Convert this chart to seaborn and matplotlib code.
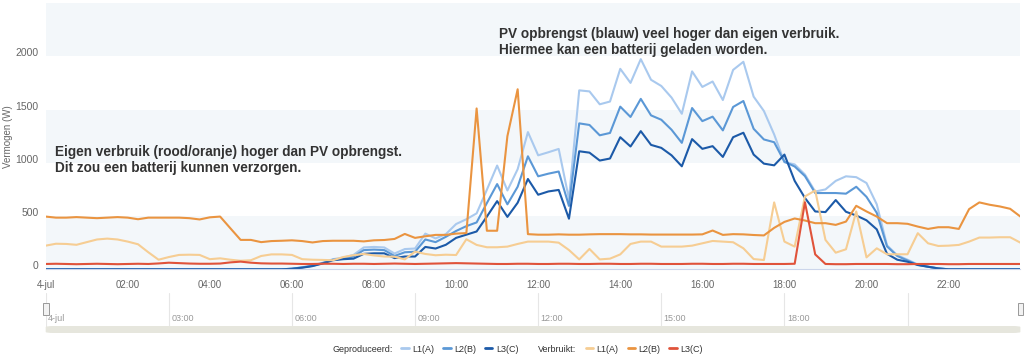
import numpy as np
import pandas as pd
import matplotlib
matplotlib.use("Agg")
import matplotlib.pyplot as plt
import matplotlib.transforms as mtransforms
from matplotlib.lines import Line2D
from matplotlib.patches import FancyBboxPatch, Rectangle
import seaborn as sns

# kwartierwaarden 00:00 .. 23:45 (W)
uren = np.arange(96) * 0.25

prod_l1 = [0] * 24 + [
    5, 20, 35, 62, 95, 110, 135, 205,
    210, 205, 148, 190, 195, 335, 290, 330,
    425, 470, 525, 747, 974, 740, 940, 1288,
    1070, 1099, 1130, 660, 1680, 1670, 1549, 1575,
    1882, 1750, 1973, 1779, 1721, 1612, 1460, 1858,
    1712, 1763, 1589, 1872, 1948, 1621, 1486, 1266,
    1005, 985, 890, 730, 750, 830, 873, 865,
    810, 610, 225, 132, 90, 45, 25, 8,
] + [0] * 8
prod_l2 = [0] * 24 + [
    5, 18, 32, 58, 90, 100, 120, 180,
    185, 180, 125, 160, 165, 280, 255, 305,
    360, 405, 440, 622, 800, 610, 775, 1061,
    873, 898, 918, 595, 1370, 1355, 1258, 1280,
    1527, 1430, 1600, 1445, 1404, 1310, 1187, 1514,
    1391, 1433, 1304, 1524, 1580, 1319, 1219, 1193,
    1010, 965, 875, 716, 716, 716, 710, 775,
    680, 530, 215, 125, 82, 42, 24, 8,
] + [0] * 8
prod_l3 = [0] * 24 + [
    5, 15, 30, 55, 85, 95, 100, 145,
    150, 150, 105, 120, 120, 210, 195, 230,
    295, 325, 355, 495, 640, 492, 625, 848,
    700, 731, 745, 475, 1108, 1095, 1021, 1040,
    1240, 1153, 1297, 1168, 1140, 1070, 967, 1222,
    1131, 1156, 1055, 1240, 1282, 1077, 992, 976,
    1077, 830, 670, 543, 537, 650, 540, 505,
    460, 375, 145, 90, 71, 40, 24, 8,
] + [0] * 8

verbr_l1 = [
    222, 240, 238, 230, 255, 280, 288, 280,
    260, 235, 160, 90, 115, 135, 137, 135,
    95, 103, 90, 80, 85, 125, 140, 140,
    135, 95, 90, 88, 85, 115, 132, 144,
    130, 120, 118, 93, 166, 144, 132, 137,
    134, 282, 229, 207, 207, 213, 238, 260,
    260, 260, 250, 181, 93, 191, 93, 100,
    140, 238, 260, 260, 213, 213, 213, 222,
    244, 266, 260, 254, 197, 96, 87, 628,
    260, 213, 684, 740, 276, 156, 188, 543,
    112, 197, 141, 141, 141, 339, 244, 219,
    222, 229, 260, 298, 298, 301, 301, 250,
]
verbr_l2 = [
    495, 485, 485, 490, 485, 480, 485, 490,
    485, 470, 485, 485, 485, 485, 480, 468,
    488, 495, 385, 276, 276, 255, 265, 268,
    272, 265, 252, 265, 268, 268, 268, 262,
    272, 275, 285, 332, 295, 310, 323, 323,
    335, 340, 1510, 362, 362, 1250, 1690, 330,
    325, 325, 328, 325, 325, 328, 330, 330,
    330, 328, 328, 326, 326, 326, 326, 326,
    328, 364, 323, 330, 328, 322, 318, 389,
    445, 477, 458, 433, 433, 417, 448, 596,
    543, 495, 433, 433, 427, 401, 379, 395,
    395, 379, 565, 628, 606, 590, 568, 495,
]
verbr_l3 = [
    50, 52, 50, 48, 50, 52, 50, 48,
    50, 52, 50, 55, 62, 58, 54, 52,
    52, 54, 65, 72, 62, 56, 54, 54,
    52, 50, 50, 52, 52, 50, 52, 52,
    50, 52, 54, 52, 50, 52, 54, 56,
    58, 56, 54, 52, 50, 50, 52, 52,
    50, 50, 52, 52, 50, 50, 52, 52,
    50, 50, 52, 52, 50, 50, 50, 52,
    52, 50, 50, 52, 52, 50, 50, 50,
    50, 52, 630, 140, 50, 48, 48, 50,
    50, 50, 50, 48, 48, 50, 50, 50,
    48, 48, 50, 50, 50, 50, 50, 50,
]

series = {
    "Geproduceerd L1(A)": prod_l1,
    "Geproduceerd L2(B)": prod_l2,
    "Geproduceerd L3(C)": prod_l3,
    "Verbruikt L1(A)": verbr_l1,
    "Verbruikt L2(B)": verbr_l2,
    "Verbruikt L3(C)": verbr_l3,
}
kleuren = ["#a9c9ee", "#5b98d6", "#1c5aa8", "#f6cd93", "#ea9440", "#e0533a"]

x_ticks = list(range(0, 24, 2))
x_labels = ["4-jul"] + [f"{h:02d}:00" for h in range(2, 24, 2)]
nav_ticks = list(range(0, 24, 3))
nav_labels = ["4-jul", "03:00", "06:00", "09:00", "12:00", "15:00", "18:00", ""]
y_ticks = [0, 500, 1000, 1500, 2000]

df = pd.concat(
    [pd.DataFrame({"uur": uren, "W": v, "serie": k}) for k, v in series.items()],
    ignore_index=True,
)

sns.set_style("white")
plt.rcParams["font.family"] = ["Liberation Sans", "DejaVu Sans"]

W, H = 1024, 357
fig = plt.figure(figsize=(10.24, 3.57), dpi=100)
x0, x1 = 45.7, 1020.4
ax = fig.add_axes([x0 / W, 1 - 269.3 / H, (x1 - x0) / W, (269.3 - 3) / H])

band = "#f3f7fa"
for lo in (0, 1000, 2000):
    ax.axhspan(lo, lo + 500, color=band, lw=0, zorder=0)

sns.lineplot(data=df, x="uur", y="W", hue="serie", hue_order=list(series),
             palette=kleuren, linewidth=1.5, legend=False, ax=ax,
             estimator=None, sort=False)

ax.set_xlim(0, 23.75)
ax.set_ylim(0, 2500)
ax.set_xticks(x_ticks)
ax.set_xticklabels(x_labels)
ax.set_yticks(y_ticks)
ax.set_xlabel("")
ax.set_ylabel("")
ax.tick_params(axis="x", length=4, color="#ccd6eb", labelsize=7, labelcolor="#666666", pad=4)
ax.tick_params(axis="y", length=0, labelsize=7.5, labelcolor="#666666", pad=5)
omhoog = mtransforms.ScaledTranslation(0, 4 / 100, fig.dpi_scale_trans)
for lab in ax.get_yticklabels():
    lab.set_transform(lab.get_transform() + omhoog)
for s in ("top", "right", "left"):
    ax.spines[s].set_visible(False)
ax.spines["bottom"].set_color("#ccd6eb")
ax.grid(False)

fig.text(8 / W, 1 - 137 / H, "Vermogen (W)", rotation=90, ha="center", va="center",
         fontsize=7, color="#666666")

fig.text(55 / W, 1 - 145 / H,
         "Eigen verbruik (rood/oranje) hoger dan PV opbrengst.\nDit zou een batterij kunnen verzorgen.",
         fontsize=9.8, fontweight="bold", color="#333333", ha="left", va="top", linespacing=1.2)
fig.text(499 / W, 1 - 27 / H,
         "PV opbrengst (blauw) veel hoger dan eigen verbruik.\nHiermee kan een batterij geladen worden.",
         fontsize=9.8, fontweight="bold", color="#333333", ha="left", va="top", linespacing=1.2)

# navigator
nav = fig.add_axes([x0 / W, 1 - 327 / H, (x1 - x0) / W, 34 / H])
nav.set_xlim(0, 23.75)
nav.set_ylim(0, 1)
nav.set_xticks([])
nav.set_yticks([])
for s in nav.spines.values():
    s.set_visible(False)
for t, lab in zip(nav_ticks, nav_labels):
    nav.axvline(t, color="#e6e6e6", lw=0.8, zorder=0)
    nav.text(t + 0.06, 0.25, lab, fontsize=6.5, color="#999999", ha="left", va="center")
for xh in (0, 23.75):
    nav.add_patch(Rectangle((xh - 0.07, 0.35), 0.14, 0.35, facecolor="#f2f2f2",
                            edgecolor="#999999", lw=0.7, clip_on=False, zorder=3))
fig.patches.append(FancyBboxPatch((x0 / W, 1 - 333 / H), (x1 - x0) / W, 7 / H,
                                  boxstyle="round,pad=0,rounding_size=0.008",
                                  facecolor="#e6e6dd", edgecolor="none",
                                  transform=fig.transFigure, mutation_aspect=H / W))

# legenda
leeg = Line2D([], [], alpha=0)
handles = [leeg] + [Line2D([], [], color=c, lw=2) for c in kleuren[:3]] + \
          [leeg] + [Line2D([], [], color=c, lw=2) for c in kleuren[3:]]
labels = ["Geproduceerd:", "L1(A)", "L2(B)", "L3(C)", "Verbruikt:", "L1(A)", "L2(B)", "L3(C)"]
fig.legend(handles, labels, loc="center", bbox_to_anchor=(512 / W, 1 - 349 / H), ncol=8,
           frameon=False, fontsize=6.5, handlelength=0.8, handletextpad=0.4,
           columnspacing=1.0, labelcolor="#333333")

fig.savefig("out.png", dpi=100)
